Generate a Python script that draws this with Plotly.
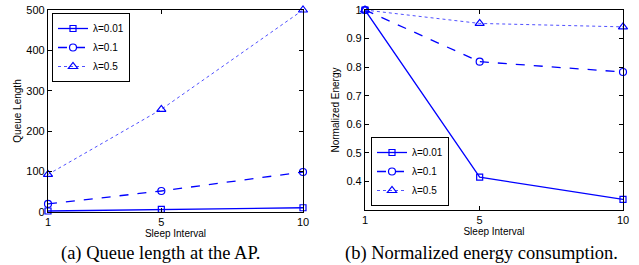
import plotly.graph_objects as go

sleep_interval = [1, 5, 10]
labels = ["λ=0.01", "λ=0.1", "λ=0.5"]
queue_001 = [2.5, 6.5, 10.5]
queue_01 = [20, 52, 99]
queue_05 = [93, 254, 500]
energy_001 = [1.0, 0.415, 0.337]
energy_01 = [1.0, 0.819, 0.783]
energy_05 = [1.0, 0.953, 0.941]

blue = "rgb(0,0,255)"
styles = [("solid", "square-open", 6, 1.3, blue),
          ("dash", "circle-open", 7, 1.3, blue),
          ("dot", "triangle-up-open", 8, 1.0, "rgb(80,80,255)")]

fig = go.Figure()
for panel, series, xa, ya, lg in [(0, [queue_001, queue_01, queue_05], "x", "y", "legend"),
                                  (1, [energy_001, energy_01, energy_05], "x2", "y2", "legend2")]:
    for (dash, sym, msize, lw, lcol), name, ys in zip(styles, labels, series):
        fig.add_trace(go.Scatter(x=sleep_interval, y=ys, name=name, mode="lines+markers",
                                 line=dict(color=lcol, width=lw, dash=dash),
                                 marker=dict(symbol=sym, size=msize, color=blue, line=dict(width=1.2, color=blue)),
                                 xaxis=xa, yaxis=ya, legend=lg, cliponaxis=False))

tickfont = dict(family="Liberation Sans, Arial", size=11, color="black")
titlefont = dict(family="Liberation Sans, Arial", size=10, color="black")
axcommon = dict(showline=True, mirror="ticks", linecolor="black", linewidth=1.2,
                ticks="inside", ticklen=4, tickcolor="black", showgrid=False, zeroline=False,
                tickfont=tickfont, automargin=False)
legfont = dict(family="Liberation Sans, Arial", size=10, color="black")

fig.update_layout(
    width=639, height=265, margin=dict(l=0, r=0, t=0, b=0),
    paper_bgcolor="white", plot_bgcolor="white",
    showlegend=True,
    xaxis=dict(domain=[48/639, 303/639], range=[1, 10], tickvals=[1, 5, 10], anchor="y",
               title=dict(text="Sleep Interval", font=titlefont, standoff=0), **axcommon),
    yaxis=dict(domain=[53/265, 255/265], range=[0, 500], tickvals=[0, 100, 200, 300, 400, 500], anchor="x",
               title=dict(text="Queue Length", font=titlefont, standoff=2), **axcommon),
    xaxis2=dict(domain=[365/639, 623/639], range=[1, 10], tickvals=[1, 5, 10], anchor="y2",
                title=dict(text="Sleep Interval", font=titlefont, standoff=0), **axcommon),
    yaxis2=dict(domain=[55/265, 255/265], range=[0.3, 1], tickvals=[0.4, 0.5, 0.6, 0.7, 0.8, 0.9, 1],
                ticktext=["0.4", "0.5", "0.6", "0.7", "0.8", "0.9", "1"], anchor="x2",
                title=dict(text="Normalized Energy", font=titlefont, standoff=4), **axcommon),
    legend=dict(x=52/639, y=252/265, xanchor="left", yanchor="top", bgcolor="white",
                bordercolor="black", borderwidth=1, font=legfont,
                tracegroupgap=0, itemwidth=30),
    legend2=dict(x=371/639, y=59/265, xanchor="left", yanchor="bottom", bgcolor="white",
                 bordercolor="black", borderwidth=1, font=legfont,
                 tracegroupgap=0, itemwidth=30),
)

capfont = dict(family="Liberation Serif, Times New Roman", size=18.5, color="black")
fig.add_annotation(text="(a) Queue length at the AP.", x=161/639, y=12/265, xref="paper", yref="paper",
                   showarrow=False, font=capfont, xanchor="center", yanchor="middle")
fig.add_annotation(text="(b) Normalized energy consumption.", x=481/639, y=12/265, xref="paper", yref="paper",
                   showarrow=False, font=capfont, xanchor="center", yanchor="middle")

fig.write_html("out.html", config={"displayModeBar": False},
               post_script="document.body.style.margin='0';document.body.style.padding='0';")
